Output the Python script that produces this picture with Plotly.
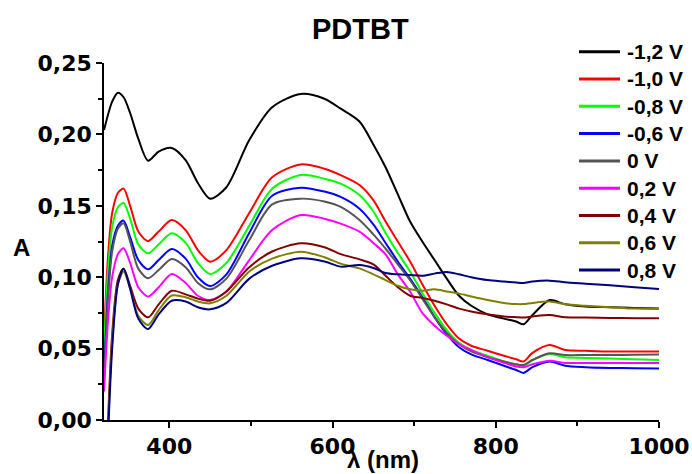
import plotly.graph_objects as go

# Wavelength grid (nm)
wavelength = [320, 325, 330, 337, 344, 352, 362, 374, 387, 403, 420, 435, 450, 470,
              498, 526, 561, 590, 610, 633, 650, 665, 680, 695, 710, 725, 740, 755,
              770, 790, 810, 825, 834, 845, 866, 885, 910, 940, 970, 1000]

# Absorbance at each applied potential
a_m12 = [0.203, 0.214, 0.223, 0.2292, 0.226, 0.215, 0.197, 0.1816, 0.188, 0.1905,
         0.182, 0.166, 0.155, 0.163, 0.196, 0.219, 0.2283, 0.225, 0.218, 0.209,
         0.193, 0.177, 0.158, 0.139, 0.125, 0.112, 0.099, 0.087, 0.080, 0.074,
         0.071, 0.069, 0.067, 0.0735, 0.084, 0.081, 0.0795, 0.079, 0.0785, 0.078]
a_m10 = [0.058, 0.115, 0.145, 0.159, 0.162, 0.150, 0.132, 0.1253, 0.132, 0.1400,
         0.133, 0.119, 0.1109, 0.119, 0.145, 0.170, 0.179, 0.176, 0.1715, 0.1646,
         0.154, 0.139, 0.125, 0.111, 0.095, 0.080, 0.067, 0.057, 0.052, 0.0485,
         0.045, 0.0425, 0.041, 0.047, 0.0525, 0.049, 0.0485, 0.048, 0.048, 0.048]
a_m08 = [0.050, 0.105, 0.135, 0.149, 0.152, 0.141, 0.123, 0.1167, 0.123, 0.1307,
         0.124, 0.110, 0.1022, 0.110, 0.136, 0.162, 0.1716, 0.169, 0.1655, 0.1575,
         0.146, 0.131, 0.117, 0.104, 0.089, 0.075, 0.063, 0.054, 0.049, 0.045,
         0.041, 0.039, 0.0378, 0.042, 0.0462, 0.044, 0.0435, 0.043, 0.0425, 0.042]
a_m06 = [0.030, 0.090, 0.122, 0.136, 0.1396, 0.128, 0.112, 0.1055, 0.112, 0.1197,
         0.113, 0.100, 0.0938, 0.102, 0.131, 0.157, 0.1627, 0.160, 0.1562, 0.148,
         0.137, 0.124, 0.111, 0.099, 0.086, 0.072, 0.060, 0.051, 0.046, 0.042,
         0.038, 0.035, 0.033, 0.037, 0.041, 0.038, 0.037, 0.0365, 0.0363, 0.036]
a_0 = [0.025, 0.085, 0.118, 0.134, 0.1377, 0.125, 0.106, 0.0992, 0.105, 0.1127,
       0.107, 0.096, 0.0915, 0.099, 0.126, 0.151, 0.155, 0.153, 0.1492, 0.140,
       0.130, 0.120, 0.109, 0.098, 0.085, 0.072, 0.061, 0.053, 0.048, 0.044,
       0.041, 0.039, 0.0385, 0.042, 0.0467, 0.0455, 0.0455, 0.0455, 0.0457, 0.0458]
a_p02 = [0.020, 0.070, 0.100, 0.116, 0.1202, 0.110, 0.093, 0.0864, 0.093, 0.1022,
         0.096, 0.087, 0.084, 0.090, 0.112, 0.133, 0.1435, 0.141, 0.1375, 0.1319,
         0.124, 0.116, 0.102, 0.090, 0.075, 0.066, 0.059, 0.053, 0.049, 0.044,
         0.040, 0.0375, 0.037, 0.039, 0.0415, 0.040, 0.040, 0.040, 0.040, 0.040]
a_p04 = [-0.080, 0.000, 0.060, 0.098, 0.106, 0.094, 0.078, 0.0719, 0.081, 0.0905,
         0.088, 0.085, 0.0835, 0.090, 0.107, 0.118, 0.1237, 0.121, 0.1162, 0.1125,
         0.109, 0.101, 0.093, 0.087, 0.0855, 0.0835, 0.081, 0.078, 0.076, 0.074,
         0.0725, 0.072, 0.0718, 0.0725, 0.0735, 0.072, 0.0718, 0.0715, 0.0713, 0.0712]
a_p06 = [-0.085, -0.005, 0.055, 0.095, 0.104, 0.092, 0.073, 0.0665, 0.077, 0.0872,
         0.086, 0.083, 0.0817, 0.087, 0.104, 0.113, 0.1179, 0.114, 0.1095, 0.1062,
         0.102, 0.098, 0.094, 0.0915, 0.0905, 0.0915, 0.090, 0.0885, 0.0865, 0.084,
         0.082, 0.0812, 0.0812, 0.082, 0.0829, 0.081, 0.080, 0.079, 0.078, 0.0777]
a_p08 = [-0.090, -0.010, 0.050, 0.095, 0.106, 0.092, 0.071, 0.0637, 0.074, 0.0835,
         0.083, 0.079, 0.0775, 0.082, 0.099, 0.108, 0.1132, 0.111, 0.1074, 0.1085,
         0.1065, 0.103, 0.102, 0.1015, 0.101, 0.1025, 0.1037, 0.102, 0.100, 0.098,
         0.097, 0.0963, 0.096, 0.097, 0.0976, 0.0965, 0.0955, 0.0943, 0.093, 0.0917]

labels = ["-1,2 V", "-1,0 V", "-0,8 V", "-0,6 V", "0 V", "0,2 V", "0,4 V", "0,6 V", "0,8 V"]
series = [a_m12, a_m10, a_m08, a_m06, a_0, a_p02, a_p04, a_p06, a_p08]
colors = ["#000000", "#ff0000", "#00ff00", "#0000ff", "#555555",
          "#ff00ff", "#800000", "#808000", "#000080"]

FONT = "Liberation Sans"
TICK_FONT = "DejaVu Sans"
W, H = 692, 474
ML, MR, MT, MB = 104, 33, 63, 54
PW, PH = W - ML - MR, H - MT - MB


def px_to_paper(px, py):
    """Convert a pixel position on the page to paper coordinates."""
    return (px - ML) / PW, (H - MB - py) / PH


fig = go.Figure()
for name, vals, col in zip(labels, series, colors):
    fig.add_trace(go.Scatter(
        x=wavelength, y=vals, name=name, mode="lines", showlegend=False,
        line=dict(color=col, width=2, shape="spline", smoothing=0.8),
    ))

axis_common = dict(
    showline=True, linecolor="black", linewidth=1.5,
    ticks="outside", ticklen=6, tickwidth=1.5, tickcolor="black",
    showgrid=False, zeroline=False, mirror=False, automargin=False,
    tickfont=dict(family=TICK_FONT, size=22, color="black", weight="bold"),
)

fig.update_xaxes(
    range=[320, 1000], tickvals=[400, 600, 800, 1000],
    minor=dict(ticks="outside", ticklen=4, tickwidth=1.5, tickcolor="black",
               tickvals=[500, 700, 900]),
    **axis_common,
)
fig.update_yaxes(
    range=[0, 0.25], tickvals=[0, 0.05, 0.10, 0.15, 0.20, 0.25], tickformat=".2f",
    minor=dict(ticks="outside", ticklen=4, tickwidth=1.5, tickcolor="black",
               tickvals=[0.025, 0.075, 0.125, 0.175, 0.225]),
    **axis_common,
)

# Legend: short coloured line followed by the potential label
shapes, annotations = [], []
row0, row_step = 51.7, 27.3
for i, (name, col) in enumerate(zip(labels, colors)):
    yrow = row0 + i * row_step
    x0, y0 = px_to_paper(579, yrow)
    x1, _ = px_to_paper(620, yrow)
    xt, _ = px_to_paper(625, yrow)
    shapes.append(dict(type="line", xref="paper", yref="paper",
                       x0=x0, x1=x1, y0=y0, y1=y0,
                       line=dict(color=col, width=3)))
    annotations.append(dict(text=name, xref="paper", yref="paper", x=xt, y=y0,
                            showarrow=False, xanchor="left", yanchor="middle",
                            font=dict(family=FONT, size=21, color="black",
                                      weight="bold")))

tx, ty = px_to_paper(360, 29)
ax_, ay_ = px_to_paper(21, 248)
lx, ly = px_to_paper(383, 459)
annotations += [
    dict(text="PDTBT", xref="paper", yref="paper", x=tx, y=ty,
         showarrow=False, xanchor="center", yanchor="middle",
         font=dict(family=FONT, size=29, color="black", weight="bold")),
    dict(text="A", xref="paper", yref="paper", x=ax_, y=ay_,
         showarrow=False, xanchor="center", yanchor="middle",
         font=dict(family=FONT, size=24, color="black", weight="bold")),
    dict(text="λ (nm)", xref="paper", yref="paper", x=lx, y=ly,
         showarrow=False, xanchor="center", yanchor="middle",
         font=dict(family=FONT, size=24, color="black", weight="bold")),
]

fig.update_layout(
    width=W, height=H,
    margin=dict(l=ML, r=MR, t=MT, b=MB, autoexpand=False),
    paper_bgcolor="white", plot_bgcolor="white",
    separators=",.",
    showlegend=False,
    shapes=shapes,
    annotations=annotations,
)

fig.write_html("out.html")
